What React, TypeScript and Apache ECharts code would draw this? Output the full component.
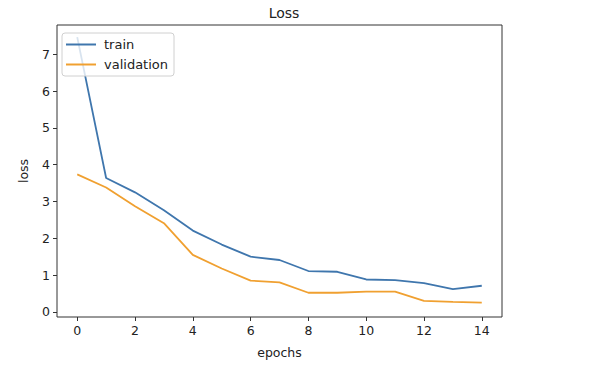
import React, { useEffect, useRef } from "react";
import * as echarts from "echarts";

const epochs = [0, 1, 2, 3, 4, 5, 6, 7, 8, 9, 10, 11, 12, 13, 14];
const trainLoss = [7.47, 3.64, 3.25, 2.76, 2.21, 1.83, 1.5, 1.41, 1.11, 1.09, 0.88, 0.86, 0.78, 0.62, 0.71];
const valLoss = [3.74, 3.38, 2.87, 2.41, 1.55, 1.18, 0.85, 0.8, 0.52, 0.52, 0.55, 0.55, 0.3, 0.27, 0.25];
const xTicks = [0, 2, 4, 6, 8, 10, 12, 14];
const yTicks = [0, 1, 2, 3, 4, 5, 6, 7];

const FONT = "DejaVu Sans";

export default function App() {
  const ref = useRef<HTMLDivElement>(null);
  useEffect(() => {
    if (!ref.current) return;
    const chart = echarts.init(ref.current, null, { renderer: "svg" });
    chart.setOption({
      animation: false,
      backgroundColor: "#ffffff",
      title: {
        text: "Loss",
        left: 279,
        textAlign: "center",
        top: 1,
        textStyle: { fontFamily: FONT, fontSize: 14, fontWeight: "normal", color: "#222" },
      },
      grid: {
        left: 57,
        right: 106,
        top: 25,
        bottom: 63,
        show: true,
        borderColor: "#333",
        borderWidth: 1,
        backgroundColor: "#fff",
      },
      legend: {
        orient: "vertical",
        left: 62,
        top: 33,
        padding: [5, 6, 5, 4],
        icon: "rect",
        itemWidth: 30,
        itemHeight: 2,
        itemGap: 7,
        borderColor: "#d0d0d0",
        borderWidth: 1,
        borderRadius: 3,
        backgroundColor: "rgba(255,255,255,0.8)",
        textStyle: { fontFamily: FONT, fontSize: 13, color: "#222", padding: [0, 0, 0, 3] },
        data: ["train", "validation"],
      },
      xAxis: {
        type: "value",
        min: -0.7,
        max: 14.7,
        name: "epochs",
        nameLocation: "middle",
        nameGap: 29,
        nameTextStyle: { fontFamily: FONT, fontSize: 12.5, color: "#222" },
        axisLine: { show: false, onZero: false },
        splitLine: { show: false },
        axisTick: { show: true, length: 4, lineStyle: { color: "#333" }, customValues: xTicks },
        axisLabel: { fontFamily: FONT, fontSize: 12.5, color: "#222", margin: 7, customValues: xTicks },
      },
      yAxis: {
        type: "value",
        min: -0.14,
        max: 7.8,
        name: "loss",
        nameLocation: "middle",
        nameGap: 27,
        nameRotate: 90,
        nameTextStyle: { fontFamily: FONT, fontSize: 12.5, color: "#222" },
        axisLine: { show: false, onZero: false },
        splitLine: { show: false },
        axisTick: { show: true, length: 4, lineStyle: { color: "#333" }, customValues: yTicks },
        axisLabel: { fontFamily: FONT, fontSize: 12.5, color: "#222", margin: 7, customValues: yTicks },
      },
      series: [
        {
          name: "train",
          type: "line",
          data: epochs.map((e, i) => [e, trainLoss[i]]),
          symbol: "none",
          lineStyle: { color: "#3f76ad", width: 1.8 },
          itemStyle: { color: "#3f76ad" },
        },
        {
          name: "validation",
          type: "line",
          data: epochs.map((e, i) => [e, valLoss[i]]),
          symbol: "none",
          lineStyle: { color: "#f0a030", width: 1.8 },
          itemStyle: { color: "#f0a030" },
        },
      ],
    });
    return () => chart.dispose();
  }, []);
  return <div ref={ref} style={{ width: 608, height: 380, position: "fixed", left: 0, top: 0 }} />;
}
